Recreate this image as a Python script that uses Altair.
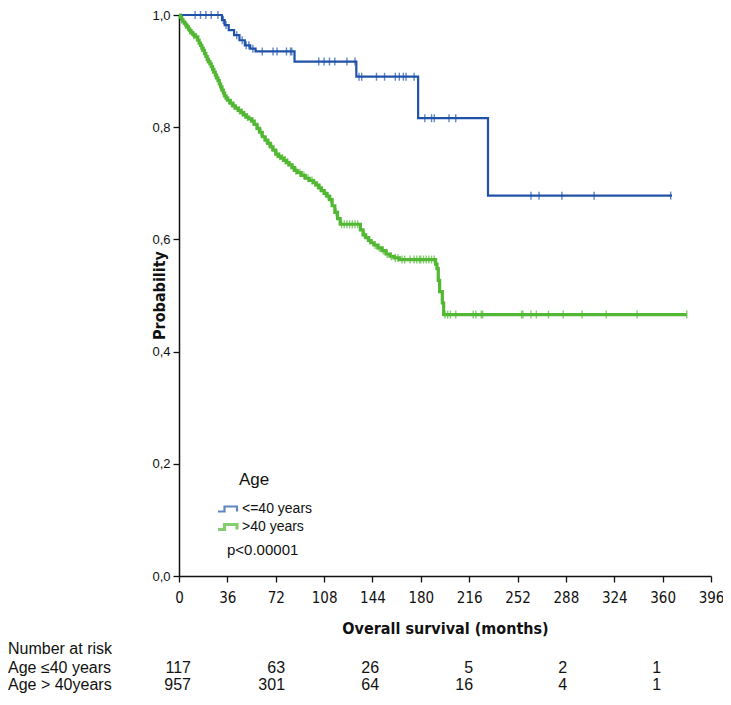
import altair as alt
import pandas as pd

# ---------------- data ----------------
groups = ["<=40 years", ">40 years"]
colors = ["#1f52a8", "#52b834"]

# Kaplan-Meier steps (month, survival after the step)
blue_months = [0, 32, 34, 37, 41, 45, 49, 53, 57, 86, 132, 178, 230, 367]
blue_surv = [1.0, 0.991, 0.982, 0.973, 0.964, 0.955, 0.946, 0.940, 0.935,
             0.917, 0.890, 0.816, 0.678, 0.678]

green_months = [0, 1, 2, 3, 4, 5, 6, 7, 8, 9, 10, 11, 12, 14, 15, 16, 17, 18, 19,
                20, 21, 22, 23, 24, 25, 26, 27, 28, 29, 30, 31, 32, 33, 34, 35,
                36, 38, 40, 42, 44, 46, 48, 50, 52, 54, 56, 58, 60, 62, 64, 66,
                68, 70, 72, 74, 76, 78, 80, 82, 84, 86, 88, 91, 94, 97, 100, 102,
                104, 106, 108, 110, 112, 114, 116, 118, 120, 135, 137, 139, 141,
                143, 145, 148, 151, 154, 157, 160, 164, 191, 192, 193, 194, 196,
                197, 378]
green_surv = [1.000, 0.996, 0.992, 0.988, 0.985, 0.982, 0.979, 0.975, 0.972,
              0.969, 0.966, 0.964, 0.961, 0.955, 0.950, 0.946, 0.941, 0.937,
              0.931, 0.926, 0.921, 0.917, 0.913, 0.908, 0.903, 0.898, 0.893,
              0.888, 0.883, 0.877, 0.872, 0.866, 0.861, 0.856, 0.852, 0.848,
              0.843, 0.838, 0.834, 0.830, 0.826, 0.822, 0.818, 0.815, 0.811,
              0.805, 0.798, 0.791, 0.783, 0.777, 0.771, 0.765, 0.759, 0.752,
              0.748, 0.745, 0.741, 0.737, 0.733, 0.728, 0.723, 0.719, 0.714,
              0.709, 0.705, 0.701, 0.697, 0.692, 0.687, 0.682, 0.677, 0.671,
              0.660, 0.648, 0.637, 0.627, 0.617, 0.608, 0.603, 0.598, 0.594,
              0.590, 0.585, 0.580, 0.574, 0.570, 0.567, 0.564, 0.556, 0.548,
              0.527, 0.507, 0.487, 0.466, 0.466]

# censoring marks (months)
blue_censor = [12, 16, 20, 24, 29, 33, 35, 43, 47, 50, 52, 55, 62, 70, 73, 80,
               83, 84, 104, 108, 112, 116, 125, 131, 134, 136, 147, 153, 161,
               164, 167, 169, 175, 183, 188, 190, 201, 206, 262, 268, 285, 309,
               366]
green_censor = [2, 5, 8, 11, 13, 17, 21, 25, 27, 31, 33, 37, 39, 41, 45, 47, 49,
                51, 55, 59, 61, 65, 67, 69, 73, 75, 77, 79, 81, 85, 87, 90, 93,
                96, 99, 101, 103, 105, 109, 111, 113, 117, 121, 123, 125, 127,
                129, 131, 133, 138, 142, 146, 149, 152, 155, 158, 161, 163, 166,
                168, 172, 175, 177, 179, 180, 182, 184, 186, 188, 190, 198, 200,
                202, 206, 219, 221, 225, 226, 255, 256, 262, 266, 275, 286, 300,
                318, 341, 378]

x_ticks = [0, 36, 72, 108, 144, 180, 216, 252, 288, 324, 360, 396]
y_ticks = [0.0, 0.2, 0.4, 0.6, 0.8, 1.0]

risk_months = [0, 70, 140, 210, 280, 350]
risk_le40 = [117, 63, 26, 5, 2, 1]
risk_gt40 = [957, 301, 64, 16, 4, 1]
row_labels = ["Number at risk", "Age \u226440 years", "Age > 40years"]

# ---------------- tables ----------------
lines = pd.DataFrame(
    {"month": blue_months + green_months,
     "surv": blue_surv + green_surv,
     "group": [groups[0]] * len(blue_months) + [groups[1]] * len(green_months)})


def surv_at(months, surv, t):
    val = surv[0]
    for m, s in zip(months, surv):
        if m <= t:
            val = s
    return val


cens_rows = []
for t in blue_censor:
    cens_rows.append({"month": t, "surv": surv_at(blue_months, blue_surv, t), "col": colors[0]})
for t in green_censor:
    cens_rows.append({"month": t, "surv": surv_at(green_months, green_surv, t), "col": colors[1]})
cens = pd.DataFrame(cens_rows)

risk1 = pd.DataFrame({"month": risk_months, "n": [str(v) for v in risk_le40]})
risk2 = pd.DataFrame({"month": risk_months, "n": [str(v) for v in risk_gt40]})

NARROW = "DejaVu Sans Condensed, Liberation Sans Narrow, Arial Narrow, Liberation Sans, Arial, sans-serif"
REG = "Liberation Sans, Arial, sans-serif"

xscale = alt.Scale(domain=[0, 396], nice=False)
yscale = alt.Scale(domain=[0, 1], nice=False)

xaxis = alt.Axis(values=x_ticks, title="Overall survival (months)", grid=False,
                 labelFont=NARROW, labelFontSize=15, titleFont=NARROW,
                 titleFontSize=16, titleFontWeight="bold", tickSize=6,
                 labelPadding=8, titlePadding=15, labelFlush=False)
yaxis = alt.Axis(values=y_ticks, title="Probability", grid=False,
                 labelExpr="replace(format(datum.value, '.1f'), '.', ',')",
                 labelFont=REG, labelFontSize=13, titleFont=NARROW,
                 titleFontSize=16, titleFontWeight="bold", tickSize=6,
                 labelPadding=3, titleX=-20, titleY=280, titleBaseline="middle",
                 titleAlign="center")

legend_symbol = "M-2,0.5L-0.7,0.5L-0.7,-0.5L1.8,-0.5L1.8,0.5"

line_layer = alt.Chart(lines).mark_line(interpolate="step-after").encode(
    x=alt.X("month:Q", scale=xscale, axis=xaxis),
    y=alt.Y("surv:Q", scale=yscale, axis=yaxis),
    color=alt.Color("group:N", scale=alt.Scale(domain=groups, range=colors),
                    legend=alt.Legend(title=None, orient="none", legendX=42,
                                      legendY=487, symbolType=legend_symbol,
                                      symbolSize=100, symbolStrokeWidth=2,
                                      symbolFillColor="transparent",
                                      labelFont=REG, labelFontSize=14,
                                      labelOffset=7, rowPadding=2, padding=0,
                                      labelColor="#111")),
    strokeWidth=alt.StrokeWidth("group:N", scale=alt.Scale(domain=groups, range=[2.2, 3.2]),
                                legend=None),
)

tick_layer = alt.Chart(cens).mark_tick(orient="vertical", size=8, thickness=1.4).encode(
    x=alt.X("month:Q", scale=xscale),
    y=alt.Y("surv:Q", scale=yscale),
    color=alt.Color("col:N", scale=None),
)

age_text = alt.Chart(pd.DataFrame({"t": ["Age"]})).mark_text(
    align="left", baseline="middle", font=REG, fontSize=17, color="#111"
).encode(x=alt.value(60), y=alt.value(465), text="t:N")

p_text = alt.Chart(pd.DataFrame({"t": ["p<0.00001"]})).mark_text(
    align="left", baseline="middle", font=REG, fontSize=15, color="#111"
).encode(x=alt.value(48), y=alt.value(535), text="t:N")

row_ys = [634, 653, 670]
label_layers = []
for lab, yy in zip(row_labels, row_ys):
    label_layers.append(
        alt.Chart(pd.DataFrame({"t": [lab]})).mark_text(
            align="left", baseline="middle", font=REG, fontSize=16, color="#111"
        ).encode(x=alt.value(-171), y=alt.value(yy), text="t:N"))

num1 = alt.Chart(risk1).mark_text(align="right", baseline="middle", font=REG,
                                  fontSize=16, dx=12, color="#111").encode(
    x=alt.X("month:Q", scale=xscale), y=alt.value(row_ys[1]), text="n:N")
num2 = alt.Chart(risk2).mark_text(align="right", baseline="middle", font=REG,
                                  fontSize=16, dx=12, color="#111").encode(
    x=alt.X("month:Q", scale=xscale), y=alt.value(row_ys[2]), text="n:N")

chart = alt.layer(line_layer, tick_layer, age_text, p_text, *label_layers, num1, num2).properties(
    width=532, height=561,
    padding={"left": 171, "top": 7, "right": 12, "bottom": 117},
    autosize=alt.AutoSizeParams(type="none"),
    background="white",
).configure_view(stroke=None).configure_axis(
    domainColor="#111", tickColor="#111", labelColor="#111", titleColor="#111",
    domainWidth=1.5, tickWidth=1.3,
)

chart.save("out.html", embed_options={"renderer": "svg", "actions": False})
